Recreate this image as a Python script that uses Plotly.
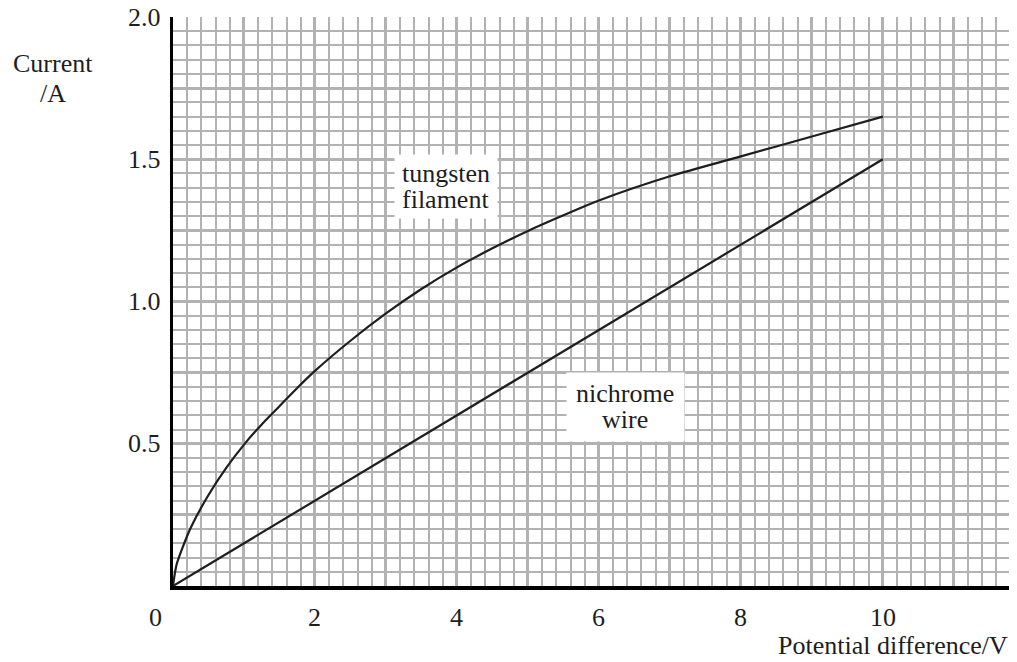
import plotly.graph_objects as go

# ---- data ----
tungsten_v = [0, 0.05, 0.15, 0.25, 0.5, 0.75, 1.0, 1.25, 1.5, 1.75, 2.0, 2.5, 3.0, 3.5, 4.0, 4.5, 5.0, 5.5, 6.0, 7.0, 8.0, 9.0, 10.0]
tungsten_i = [0, 0.075, 0.145, 0.205, 0.32, 0.415, 0.497, 0.568, 0.632, 0.696, 0.756, 0.862, 0.958, 1.044, 1.12, 1.187, 1.248, 1.303, 1.355, 1.44, 1.51, 1.58, 1.65]
nichrome_v = [0, 10.0]
nichrome_i = [0, 1.5]

x_tick_vals = [2, 4, 6, 8, 10]
x_tick_text = ["2", "4", "6", "8", "10"]
y_tick_vals = [0.5, 1.0, 1.5, 2.0]
y_tick_text = ["0.5", "1.0", "1.5", "2.0"]

FONT = "Liberation Serif"
FS = 26
GRID = "#b2b2b2"
INK = "#1e1e1e"

fig = go.Figure()
fig.add_trace(go.Scatter(x=tungsten_v, y=tungsten_i, mode="lines",
                         line=dict(color=INK, width=2.2, shape="spline", smoothing=0.8),
                         hoverinfo="skip", showlegend=False))
fig.add_trace(go.Scatter(x=nichrome_v, y=nichrome_i, mode="lines",
                         line=dict(color=INK, width=2.2),
                         hoverinfo="skip", showlegend=False))

ann = []
# x tick labels
for v, t in zip(x_tick_vals, x_tick_text):
    ann.append(dict(x=v, xref="x", y=0, yref="paper", text=t, showarrow=False,
                    yanchor="middle", xanchor="center", yshift=-31,
                    font=dict(family=FONT, size=FS, color=INK)))
ann.append(dict(x=0, xref="x", y=0, yref="paper", text="0", showarrow=False,
                yanchor="middle", xanchor="center", yshift=-31, xshift=-18,
                font=dict(family=FONT, size=FS, color=INK)))
# y tick labels
for v, t in zip(y_tick_vals, y_tick_text):
    ann.append(dict(x=0, xref="paper", y=v, yref="y", text=t, showarrow=False,
                    yanchor="middle", xanchor="right", xshift=-10,
                    font=dict(family=FONT, size=FS, color=INK)))
# axis titles
ann.append(dict(x=0, xref="paper", y=1, yref="paper", text="Current", showarrow=False,
                xanchor="center", yanchor="middle", xshift=-120, yshift=-46,
                font=dict(family=FONT, size=FS, color=INK)))
ann.append(dict(x=0, xref="paper", y=1, yref="paper", text="/A", showarrow=False,
                xanchor="center", yanchor="middle", xshift=-120, yshift=-76,
                font=dict(family=FONT, size=FS, color=INK)))
ann.append(dict(x=1, xref="paper", y=0, yref="paper", text="Potential difference/V",
                showarrow=False, xanchor="right", yanchor="middle", xshift=-7, yshift=-59,
                font=dict(family=FONT, size=FS, color=INK)))

# curve labels with white boxes
def label(x, y, lines, w, h):
    ann.append(dict(x=x, y=y, xref="x", yref="y", text=" ", showarrow=False,
                    width=w, height=h, bgcolor="white", borderpad=0,
                    xanchor="center", yanchor="middle"))
    n = len(lines)
    for k, t in enumerate(lines):
        ann.append(dict(x=x, y=y, xref="x", yref="y", text=t, showarrow=False,
                        xanchor="center", yanchor="middle",
                        yshift=(n - 1) * 13 - 26 * k,
                        font=dict(family=FONT, size=FS, color=INK)))

label(3.84, 1.405, ["tungsten", "filament"], 102, 63)
label(6.37, 0.63, ["nichrome", "wire"], 117, 68)

# page body has an 8px margin, so the figure is offset by (8, 8)
fig.update_layout(
    width=1009, height=654,
    margin=dict(l=165, r=0, t=9, b=76),
    paper_bgcolor="white", plot_bgcolor="white",
    annotations=ann,
    xaxis=dict(range=[0, 11.89], tick0=0, dtick=1, showgrid=True, gridcolor=GRID, gridwidth=3,
               minor=dict(dtick=0.2, showgrid=True, gridcolor=GRID, gridwidth=1.6),
               showticklabels=False, ticks="", zeroline=False,
               showline=True, linecolor="black", linewidth=4),
    yaxis=dict(range=[0, 2.0], tick0=0, dtick=0.25, showgrid=True, gridcolor=GRID, gridwidth=3,
               minor=dict(dtick=0.05, showgrid=True, gridcolor=GRID, gridwidth=1.6),
               showticklabels=False, ticks="", zeroline=False,
               showline=True, linecolor="black", linewidth=3),
)

fig.write_html("out.html")
